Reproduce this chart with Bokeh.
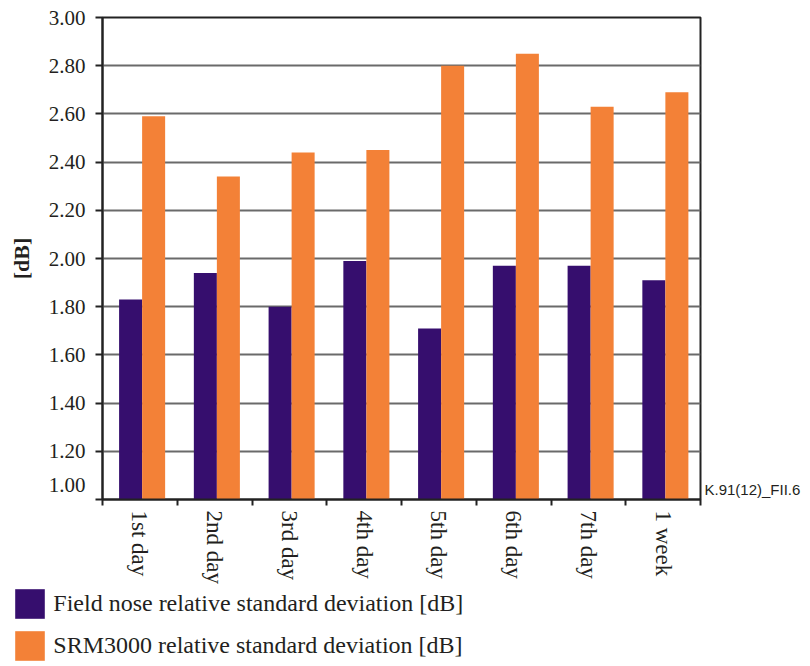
import numpy as np
from bokeh.plotting import figure
from bokeh.layouts import column
from bokeh.models import (Range1d, FixedTicker, Legend, LegendItem, LinearAxis,
                          CustomJSTickFormatter)
from bokeh.embed import file_html
from bokeh.resources import INLINE

# ---- data ----
categories = ["1st day", "2nd day", "3rd day", "4th day",
              "5th day", "6th day", "7th day", "1 week"]
field_nose = [1.83, 1.94, 1.80, 1.99, 1.71, 1.97, 1.97, 1.91]
srm3000 = [2.59, 2.34, 2.44, 2.45, 2.80, 2.85, 2.63, 2.69]
y_ticks = [1.00, 1.20, 1.40, 1.60, 1.80, 2.00, 2.20, 2.40, 2.60, 2.80, 3.00]
series_labels = ["Field nose relative standard deviation [dB]",
                 "SRM3000 relative standard deviation [dB]"]
figure_id = "K.91(12)_FII.6"

PURPLE = "#360E6E"
ORANGE = "#F38137"
TXT = "#231f20"
SERIF = "Liberation Serif"

n = len(categories)
centers = np.arange(n) + 0.5
bw = 0.308

p = figure(width=806, height=586, output_backend="svg", toolbar_location=None,
           x_range=Range1d(0, n), y_range=Range1d(1.0, 3.0),
           min_border_left=102, min_border_right=106,
           min_border_top=17, min_border_bottom=87)
p.background_fill_color = "white"
p.border_fill_color = "white"
p.outline_line_color = "#222222"
p.outline_line_width = 2

r1 = p.vbar(x=centers - bw / 2 + 0.03, width=bw, top=field_nose, bottom=1.0,
            fill_color=PURPLE, line_color=None)
r2 = p.vbar(x=centers + bw / 2 + 0.03, width=bw, top=srm3000, bottom=1.0,
            fill_color=ORANGE, line_color=None)

# grid
p.xgrid.grid_line_color = None
p.ygrid.ticker = FixedTicker(ticks=y_ticks[1:-1])
p.ygrid.grid_line_color = "#6a6a6a"
p.ygrid.grid_line_width = 2
p.ygrid.level = "underlay"

# y axis  (the "1.00" label sits above the axis line in the reference)
ya = p.yaxis[0]
ya.ticker = FixedTicker(ticks=y_ticks)
ya.formatter = CustomJSTickFormatter(
    code="return tick < 1.01 ? tick.toFixed(2) + '\\n\\u00a0' : tick.toFixed(2);")
ya.major_tick_out = 7
ya.major_tick_in = 0
ya.major_tick_line_width = 2
ya.major_tick_line_color = "#222222"
ya.minor_tick_line_color = None
ya.axis_line_width = 2
ya.axis_line_color = "#222222"
ya.major_label_standoff = 10
ya.major_label_text_font = SERIF
ya.major_label_text_font_size = "21px"
ya.major_label_text_color = TXT
ya.axis_label = "[dB]"
ya.axis_label_text_font = SERIF
ya.axis_label_text_font_style = "bold"
ya.axis_label_text_font_size = "22px"
ya.axis_label_text_color = TXT
ya.axis_label_standoff = 12

# x axis: labels at category centres, tick marks between categories
xa = p.xaxis[0]
xa.ticker = FixedTicker(ticks=list(centers), minor_ticks=list(range(n + 1)))
xa.formatter = CustomJSTickFormatter(args=dict(cats=categories),
                                     code="return cats[Math.round(tick - 0.5)] || '';")
xa.major_tick_line_color = None
xa.major_tick_out = 0
xa.major_tick_in = 0
xa.minor_tick_line_color = "#222222"
xa.minor_tick_line_width = 2
xa.minor_tick_out = 6
xa.minor_tick_in = 0
xa.axis_line_width = 2
xa.axis_line_color = "#222222"
xa.major_label_orientation = "vertical"
xa.major_label_standoff = 5
xa.major_label_text_font = SERIF
xa.major_label_text_font_size = "23px"
xa.major_label_text_color = TXT

# figure identifier at the right of the frame, near the bottom
ra = LinearAxis(ticker=FixedTicker(ticks=[1.041]),
                formatter=CustomJSTickFormatter(args=dict(t=figure_id), code="return t;"))
ra.axis_line_color = None
ra.major_tick_line_color = None
ra.minor_tick_line_color = None
ra.major_tick_out = 0
ra.major_tick_in = 0
ra.major_label_standoff = 4
ra.major_label_text_font = "Liberation Sans"
ra.major_label_text_font_size = "15px"
ra.major_label_text_color = TXT
p.add_layout(ra, "right")

# ---- legend panel below ----
lg = figure(width=806, height=78, output_backend="svg", toolbar_location=None,
            x_range=Range1d(0, 1), y_range=Range1d(0, 1),
            x_axis_type=None, y_axis_type=None,
            min_border_left=0, min_border_right=0, min_border_top=0, min_border_bottom=0)
lg.outline_line_color = None
lg.background_fill_color = "white"
lg.border_fill_color = "white"
legend_x = 11.3
if "frame_align" in lg.properties():
    lg.frame_align = False
else:
    legend_x = 11.3 - 102
d1 = lg.vbar(x=[-10], width=0.1, top=[-10], fill_color=PURPLE, line_color=None)
d2 = lg.vbar(x=[-10], width=0.1, top=[-10], fill_color=ORANGE, line_color=None)
legend = Legend(items=[LegendItem(label=series_labels[0], renderers=[d1]),
                       LegendItem(label=series_labels[1], renderers=[d2])],
                location=(legend_x, 0), orientation="vertical",
                glyph_width=37, glyph_height=37, spacing=5, padding=0, margin=0,
                label_standoff=5, label_text_font=SERIF,
                label_text_font_size="24px", label_text_color=TXT,
                border_line_color=None, background_fill_alpha=0)
lg.add_layout(legend)

layout = column(p, lg)
open("out.html", "w").write(file_html(layout, INLINE))
